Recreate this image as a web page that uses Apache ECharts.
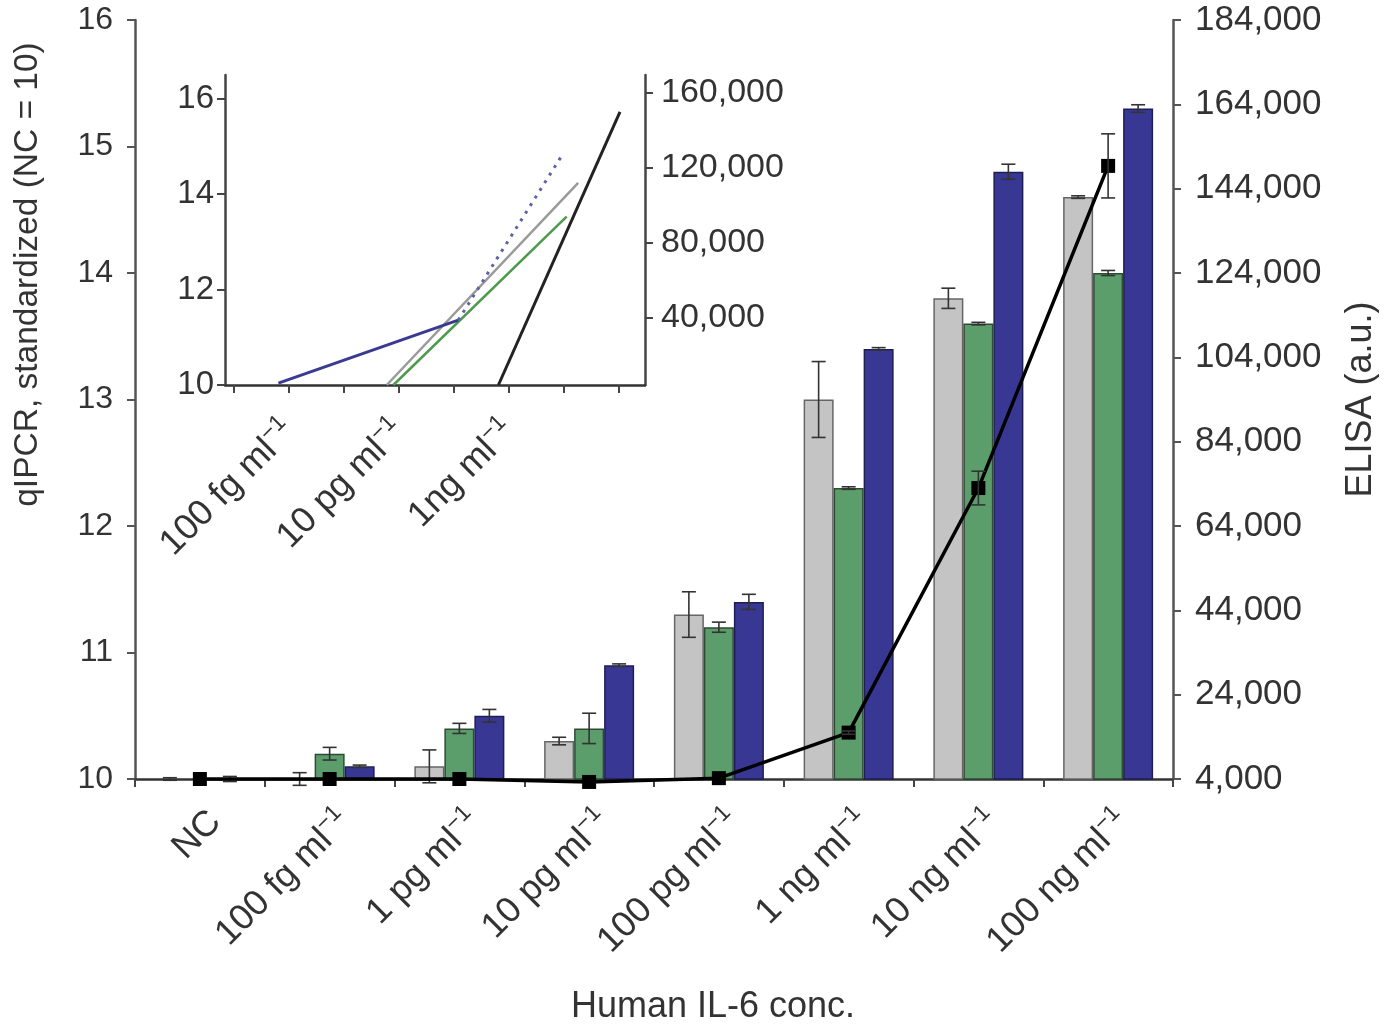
<!DOCTYPE html>
<html><head><meta charset="utf-8">
<script src="https://cdn.jsdelivr.net/npm/echarts@6/dist/echarts.min.js"></script>
<style>html,body{margin:0;padding:0;background:#fff}#c{width:1385px;height:1027px}</style>
</head><body><div id="c"></div>
<script>
// ---------- main chart data ----------
const categories = ['NC', '100 fg ml−1', '1 pg ml−1', '10 pg ml−1', '100 pg ml−1', '1 ng ml−1', '10 ng ml−1', '100 ng ml−1'];
const grayVals  = [10.0, 10.0, 10.1, 10.3, 11.3, 13.0, 13.8, 14.6];
const grayErr   = [0.01, 0.05, 0.13, 0.03, 0.18, 0.30, 0.08, 0.01];
const greenVals = [10.0, 10.2, 10.4, 10.4, 11.2, 12.3, 13.6, 14.0];
const greenErr  = [0.00, 0.05, 0.04, 0.12, 0.04, 0.01, 0.01, 0.02];
const blueVals  = [10.0, 10.1, 10.5, 10.9, 11.4, 13.4, 14.8, 15.3];
const blueErr   = [0.02, 0.01, 0.05, 0.01, 0.06, 0.01, 0.06, 0.03];
const elisaVals = [4000, 4000, 4000, 3300, 4200, 15000, 73000, 149400];
const elisaErr  = [0, 0, 0, 0, 0, 400, 4000, 7600];
const leftTicks  = [10, 11, 12, 13, 14, 15, 16];
const rightTicks = [4000, 24000, 44000, 64000, 84000, 104000, 124000, 144000, 164000, 184000];

// ---------- inset data (trend line end points, x = category index) ----------
const insetTickPos   = [0, 1, 2, 3, 4, 5, 6, 7];
const insetLabelPos  = [1, 3, 5];
const insetLabelText = ['100 fg ml−1', '10 pg ml−1', '1ng ml−1'];
const insetLeftTicks  = [10, 12, 14, 16];
const insetRightTicks = [40000, 80000, 120000, 160000];
const insetBlueSolid  = [[0.82, 10.04], [4.09, 11.36]];
const insetBlueDotted = [[4.09, 11.36], [6.0, 14.86]];
const insetGray       = [[2.79, 10.0], [6.27, 14.24]];
const insetGreen      = [[2.91, 10.0], [6.06, 13.53]];
const insetBlack      = [[4.82, 4000], [7.03, 149700]];

const FONT = 'Liberation Sans, Arial, Helvetica, sans-serif';
const TXT = '#333';
const BAR_W = 30;

function catLabel(v) {
  const m = v.match(/^(.*ml)(−1)$/);
  if (m) return '{n|' + m[1] + '}{s|' + m[2] + '}';
  return '{n|' + v + '}';
}
const labelRich = {
  n: { fontSize: 36, fontFamily: FONT, color: TXT, lineHeight: 40, verticalAlign: 'bottom' },
  s: { fontSize: 23, fontFamily: FONT, color: TXT, lineHeight: 40, verticalAlign: 'top', padding: [0, 0, 11, 0] }
};

function errSeries(vals, errs, offset, yAxisIndex, name) {
  return {
    type: 'custom', name: name, xAxisIndex: 0, yAxisIndex: yAxisIndex, z: 5, clip: false,
    data: vals.map((v, i) => [i, v, errs[i]]),
    encode: { x: 0, y: 1 },
    renderItem: function (params, api) {
      const i = api.value(0), v = api.value(1), e = api.value(2);
      if (!e) return null;
      const t = api.coord([i, v + e]);
      const b = api.coord([i, v - e]);
      const x = t[0] + offset;
      const cap = 7;
      const st = { stroke: '#333', lineWidth: 1.6 };
      return { type: 'group', children: [
        { type: 'line', shape: { x1: x, y1: t[1], x2: x, y2: b[1] }, style: st },
        { type: 'line', shape: { x1: x - cap, y1: t[1], x2: x + cap, y2: t[1] }, style: st },
        { type: 'line', shape: { x1: x - cap, y1: b[1], x2: x + cap, y2: b[1] }, style: st }
      ] };
    }
  };
}

const chart = echarts.init(document.getElementById('c'), null, { renderer: 'canvas' });
const option = {
  animation: false,
  backgroundColor: '#fff',
  textStyle: { fontFamily: FONT },
  grid: [
    { left: 135, right: 212, top: 20, bottom: 248, containLabel: false, outerBoundsMode: 'none' },
    { left: 225, right: 740, top: 75, bottom: 642, containLabel: false, outerBoundsMode: 'none' }
  ],
  xAxis: [
    {
      type: 'category', gridIndex: 0, data: categories, boundaryGap: true,
      axisLine: { lineStyle: { color: '#333', width: 2.5 } },
      axisTick: { show: true, length: 8, lineStyle: { color: '#444', width: 2 } },
      axisLabel: { rotate: 45, margin: 22, interval: 0, verticalAlign: 'top', formatter: catLabel, rich: labelRich },
      name: 'Human IL-6 conc.', nameLocation: 'middle', nameGap: 210,
      nameTextStyle: { fontSize: 36, fontFamily: FONT, color: TXT, padding: [0, 0, 0, 118] }
    },
    {
      type: 'value', gridIndex: 1, min: -0.151, max: 7.485,
      splitLine: { show: false },
      axisLine: { onZero: false, lineStyle: { color: '#333', width: 2.5 } },
      axisTick: { show: true, length: 8, customValues: insetTickPos, lineStyle: { color: '#444', width: 2 } },
      axisLabel: {
        rotate: 45, margin: 40, customValues: insetLabelPos,
        formatter: function (v) { const k = insetLabelPos.indexOf(Math.round(v)); return k >= 0 ? catLabel(insetLabelText[k]) : ''; },
        rich: labelRich
      }
    }
  ],
  yAxis: [
    {
      type: 'value', gridIndex: 0, min: 10, max: 16, interval: 1, position: 'left',
      splitLine: { show: false },
      axisLine: { show: true, onZero: false, lineStyle: { color: '#555', width: 2.5 } },
      axisTick: { show: true, length: 8, customValues: leftTicks, lineStyle: { color: '#555', width: 2 } },
      axisLabel: { fontSize: 32, color: TXT, margin: 22, customValues: leftTicks },
      name: 'qIPCR, standardized (NC = 10)', nameLocation: 'middle', nameGap: 90, nameRotate: 90,
      nameTextStyle: { fontSize: 33.5, fontFamily: FONT, color: TXT, padding: [0, 0, 0, 250] }
    },
    {
      type: 'value', gridIndex: 0, min: 4000, max: 184000, position: 'right',
      splitLine: { show: false },
      axisLine: { show: true, onZero: false, lineStyle: { color: '#555', width: 2.5 } },
      axisTick: { show: true, length: 8, customValues: rightTicks, lineStyle: { color: '#555', width: 2 } },
      axisLabel: { fontSize: 35, color: TXT, margin: 22, customValues: rightTicks,
        formatter: v => Math.round(v).toLocaleString('en-US') },
      name: 'ELISA (a.u.)', nameLocation: 'middle', nameGap: 170, nameRotate: 90,
      nameTextStyle: { fontSize: 36, fontFamily: FONT, color: TXT }
    },
    {
      type: 'value', gridIndex: 1, min: 10, max: 16.5, position: 'left',
      splitLine: { show: false },
      axisLine: { show: true, onZero: false, lineStyle: { color: '#444', width: 2.5 } },
      axisTick: { show: true, length: 8, customValues: insetLeftTicks, lineStyle: { color: '#444', width: 2 } },
      axisLabel: { fontSize: 33, color: TXT, margin: 11, customValues: insetLeftTicks }
    },
    {
      type: 'value', gridIndex: 1, min: 4000, max: 169333, position: 'right',
      splitLine: { show: false },
      axisLine: { show: true, onZero: false, lineStyle: { color: '#444', width: 2.5 } },
      axisTick: { show: true, length: 8, customValues: insetRightTicks, lineStyle: { color: '#444', width: 2 } },
      axisLabel: { fontSize: 34, color: TXT, margin: 16, customValues: insetRightTicks,
        formatter: v => Math.round(v).toLocaleString('en-US') }
    }
  ],
  series: [
    { type: 'bar', name: 'gray', xAxisIndex: 0, yAxisIndex: 0, data: grayVals, barWidth: BAR_W, barGap: '0%', clip: true,
      itemStyle: { color: '#c4c4c4', borderColor: '#666', borderWidth: 1.5 } },
    { type: 'bar', name: 'green', xAxisIndex: 0, yAxisIndex: 0, data: greenVals, barWidth: BAR_W, barGap: '0%', clip: true,
      itemStyle: { color: '#5c9e6b', borderColor: '#2f4a35', borderWidth: 1.5 } },
    { type: 'bar', name: 'blue', xAxisIndex: 0, yAxisIndex: 0, data: blueVals, barWidth: BAR_W, barGap: '0%', clip: true,
      itemStyle: { color: '#383894', borderColor: '#1e1e55', borderWidth: 1.5 } },
    errSeries(grayVals, grayErr, -BAR_W, 0, 'grayErr'),
    errSeries(greenVals, greenErr, 0, 0, 'greenErr'),
    errSeries(blueVals, blueErr, BAR_W, 0, 'blueErr'),
    { type: 'line', name: 'ELISA', xAxisIndex: 0, yAxisIndex: 1, data: elisaVals, z: 8, clip: false,
      symbol: 'rect', symbolSize: 14, showSymbol: true,
      lineStyle: { color: '#000', width: 3.5 }, itemStyle: { color: '#000' } },
    Object.assign(errSeries(elisaVals, elisaErr, 0, 1, 'elisaErr'), { z: 9 }),
    // inset
    { type: 'line', name: 'inset gray', xAxisIndex: 1, yAxisIndex: 2, data: insetGray, showSymbol: false, symbol: 'none',
      lineStyle: { color: '#9a9a9a', width: 2.5 } },
    { type: 'line', name: 'inset green', xAxisIndex: 1, yAxisIndex: 2, data: insetGreen, showSymbol: false, symbol: 'none',
      lineStyle: { color: '#4d9a4d', width: 2.5 } },
    { type: 'line', name: 'inset blue', xAxisIndex: 1, yAxisIndex: 2, data: insetBlueSolid, showSymbol: false, symbol: 'none',
      lineStyle: { color: '#3a3a90', width: 3 } },
    { type: 'line', name: 'inset blue dotted', xAxisIndex: 1, yAxisIndex: 2, data: insetBlueDotted, showSymbol: false, symbol: 'none',
      lineStyle: { color: '#6060a8', width: 3, type: [3, 6] } },
    { type: 'line', name: 'inset ELISA', xAxisIndex: 1, yAxisIndex: 3, data: insetBlack, showSymbol: false, symbol: 'none',
      lineStyle: { color: '#222', width: 3 } }
  ]
};
chart.setOption(option);
</script>
</body></html>
